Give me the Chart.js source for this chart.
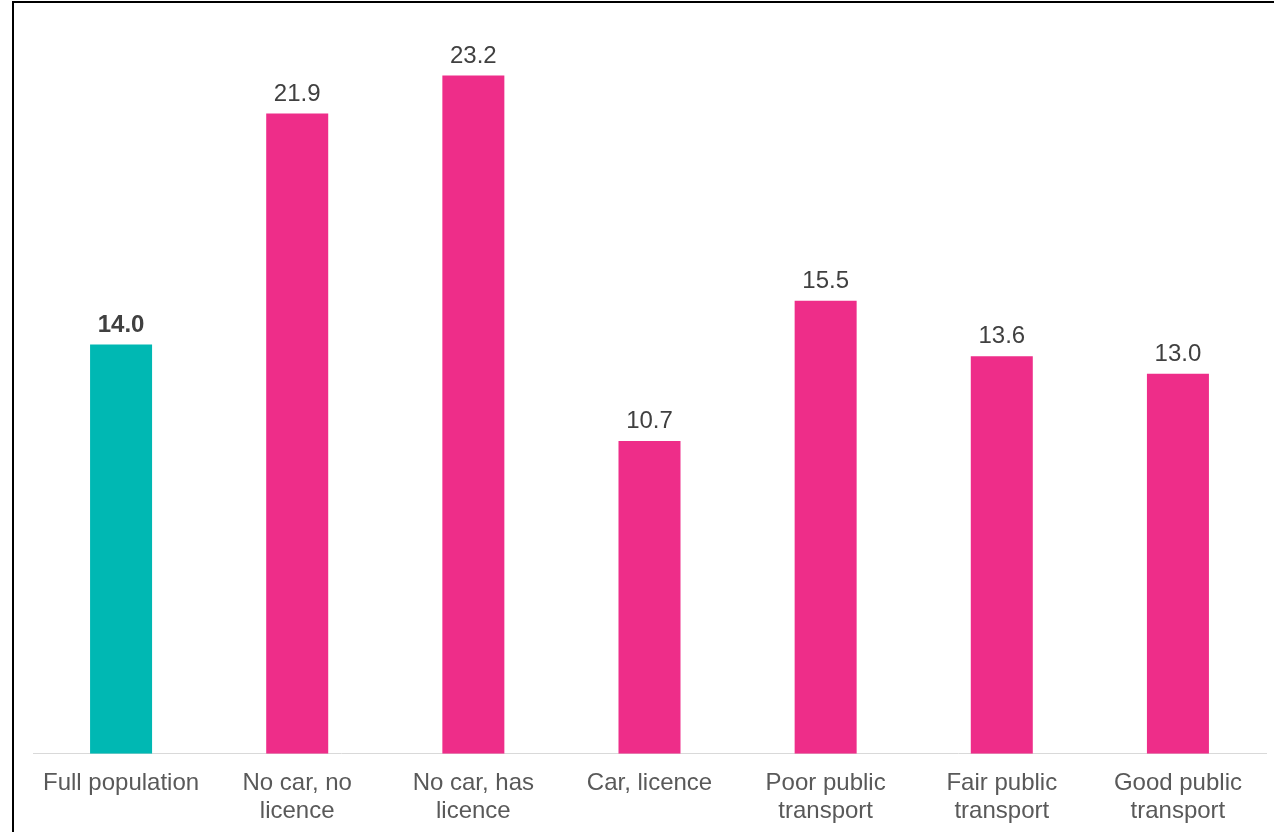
<!DOCTYPE html>
<html>
<head>
<meta charset="utf-8">
<script src="https://cdn.jsdelivr.net/npm/chart.js@4"></script>
<style>
  html, body { margin: 0; padding: 0; background: #fff; overflow: hidden; }
  #frame { position: absolute; left: 12px; top: 1px; width: 1300px; height: 900px; border: 2px solid #000; box-sizing: border-box; }
  #wrap { position: absolute; left: 0; top: 0; width: 1274px; height: 832px; overflow: hidden; }
</style>
</head>
<body>
<div id="frame"></div>
<div id="wrap"><canvas id="barChart" width="1274" height="851"></canvas></div>
<script>
// categories (multi-line labels) and values
const categories = [
    ["Full population"],
    ["No car, no", "licence"],
    ["No car, has", "licence"],
    ["Car, licence"],
    ["Poor public", "transport"],
    ["Fair public", "transport"],
    ["Good public", "transport"]
];
const values = [14.0, 21.9, 23.2, 10.7, 15.5, 13.6, 13.0];
const barColors = ["#00B8B3", "#EE2D89", "#EE2D89", "#EE2D89", "#EE2D89", "#EE2D89", "#EE2D89"];

// draw value labels on top of each bar
const valueLabels = {
    id: "valueLabels",
    afterDatasetsDraw(chart) {
        const ctx = chart.ctx;
        const meta = chart.getDatasetMeta(0);
        ctx.save();
        ctx.textAlign = "center";
        ctx.textBaseline = "alphabetic";
        ctx.fillStyle = "#404040";
        meta.data.forEach((bar, i) => {
            ctx.font = (i === 0 ? "bold " : "") + "24px 'Liberation Sans', Arial, sans-serif";
            ctx.fillText(values[i].toFixed(1), bar.x, bar.y - 13);
        });
        ctx.restore();
    }
};

const ctx = document.getElementById("barChart").getContext("2d");
new Chart(ctx, {
    type: "bar",
    data: {
        labels: categories,
        datasets: [{
            data: values,
            backgroundColor: barColors,
            borderWidth: 0,
            barPercentage: 0.352,
            categoryPercentage: 1
        }]
    },
    options: {
        responsive: false,
        animation: false,
        layout: { padding: { left: 33, right: 8, top: 23, bottom: 11 } },
        plugins: {
            legend: { display: false },
            tooltip: { enabled: false }
        },
        scales: {
            y: {
                display: false,
                min: 0,
                max: 25
            },
            x: {
                grid: { display: false, drawTicks: false },
                border: { display: true, color: "#D9D9D9", width: 1 },
                ticks: {
                    color: "#595959",
                    padding: 15,
                    maxRotation: 0,
                    autoSkip: false,
                    font: { family: "'Liberation Sans', Arial, sans-serif", size: 24, lineHeight: 1.17 }
                }
            }
        }
    },
    plugins: [valueLabels]
});
</script>
</body>
</html>
